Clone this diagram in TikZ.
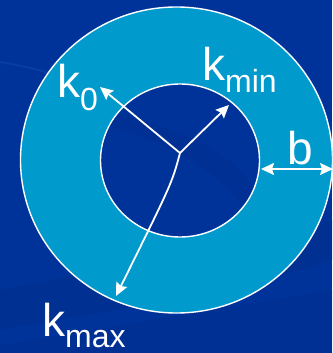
\documentclass[tikz,border=0pt]{standalone}
\usepackage{fontspec}
\setmainfont{Liberation Sans}
\usetikzlibrary{arrows.meta}
\definecolor{bgblue}{HTML}{003399}
\definecolor{bgdark}{HTML}{002E8E}
\definecolor{bglight}{HTML}{0A3CA3}
\definecolor{ring}{HTML}{009ACC}
\tikzset{
  radius line/.style={draw=white, line width=1.8pt},
  arr/.style={radius line, -{Stealth[length=13pt, width=12pt, inset=2pt]}},
  darr/.style={radius line, {Stealth[length=13pt, width=12pt, inset=2pt]}-{Stealth[length=13pt, width=12pt, inset=2pt]}},
  lbl/.style={text=white, inner sep=0pt, anchor=base west, font=\fontsize{46}{46}\selectfont},
}
\newcommand{\subtxt}[2][13pt]{\raisebox{-#1}{\fontsize{32}{32}\selectfont #2}}
\begin{document}
\begin{tikzpicture}[x=1pt, y=-1pt]
\useasboundingbox (0,0) rectangle (332,353);
\clip (0,0) rectangle (332,353);
% background
\fill[bgblue] (0,0) rectangle (332,353);
\fill[bgdark, opacity=0.6] (0,290) .. controls (120,265) and (240,250) .. (332,220) -- (332,260) .. controls (240,290) and (120,310) .. (0,330) -- cycle;
\fill[bgdark, opacity=0.5] (0,353) -- (0,345) .. controls (120,325) and (240,305) .. (332,290) -- (332,353) -- cycle;
\draw[bglight, line width=2pt] (0,62) .. controls (60,72) and (120,95) .. (200,125);
\draw[bgdark, line width=3pt] (200,125) .. controls (240,140) and (260,160) .. (250,190);
% outer ring
\fill[ring, draw=white, line width=1.4pt] (176.5,160) ellipse [x radius=156, y radius=153];
% inner disc
\fill[bgblue, draw=white, line width=1.4pt] (180,160.5) ellipse [x radius=79.5, y radius=76.5];
\begin{scope}
\clip (180,160.5) ellipse [x radius=78.5, y radius=75.5];
\fill[bgdark, opacity=0.5] (100,110) .. controls (170,125) and (240,150) .. (260,200) -- (260,240) .. controls (240,180) and (170,140) .. (100,125) -- cycle;
\end{scope}
% points
\coordinate (c) at (180,153);
\coordinate (bend) at (172,183);
\coordinate (t0) at (100,87);
\coordinate (tmin) at (229,105);
\coordinate (tmax) at (116,296);
\coordinate (bl) at (261,169);
\coordinate (br) at (333,169);
% arrows
\draw[arr] (c) -- (t0);
\draw[arr] (c) -- (tmin);
\draw[arr] (c) .. controls (bend) .. (tmax);
\draw[darr] (bl) -- (br);
% labels
\node[lbl] (k0) at (57,97) {k\subtxt{0}};
\node[lbl] (kmin) at (202,80) {k\subtxt{min}};
\node[lbl] (kmax) at (42,336) {k\subtxt[11pt]{max}};
\node[lbl] (b) at (287,164) {b};
\end{tikzpicture}
\end{document}
